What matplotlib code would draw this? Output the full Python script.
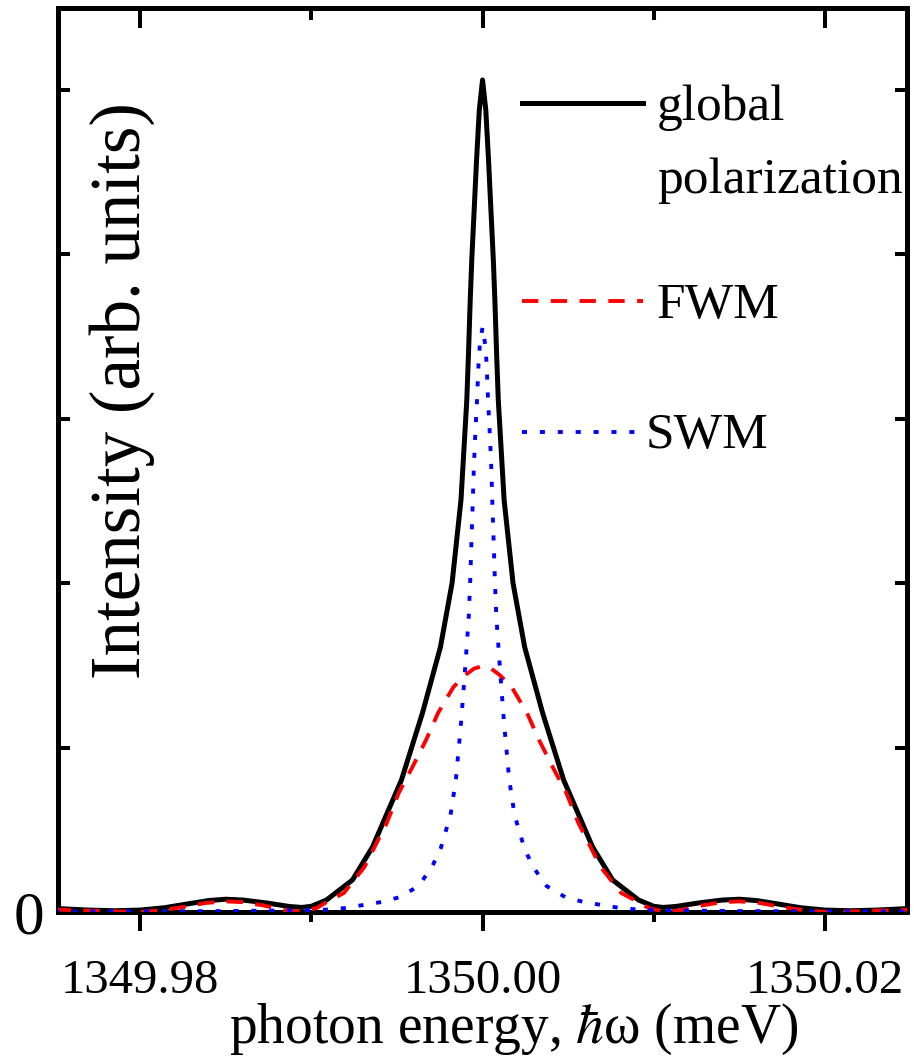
import numpy as np
import matplotlib
matplotlib.use("Agg")
import matplotlib.pyplot as plt
from matplotlib.ticker import MultipleLocator

plt.rcParams['font.family'] = ['Liberation Serif', 'DejaVu Serif']
plt.rcParams['mathtext.fontset'] = 'stix'

center = 1350.0

# half profiles: offset from 1350 meV, intensity
black_off = [0, 0.00019, 0.00035, 0.00049, 0.00063, 0.00072, 0.00082, 0.00092,
             0.00126, 0.00178, 0.00246, 0.00351, 0.00474, 0.00643, 0.00760,
             0.00912, 0.0100, 0.01055, 0.0113, 0.0126, 0.0140, 0.0150, 0.0160,
             0.0172, 0.0186, 0.0200, 0.0215, 0.0230, 0.0250]
black_val = [5.058, 4.875, 4.571, 4.267, 3.964, 3.720, 3.398, 3.112,
             2.505, 2.000, 1.611, 1.210, 0.802, 0.395, 0.195,
             0.073, 0.035, 0.028, 0.034, 0.055, 0.073, 0.078, 0.070,
             0.050, 0.026, 0.012, 0.008, 0.012, 0.022]

fwm_off = [0, 0.0005, 0.0010, 0.0017, 0.0026, 0.0033, 0.0041, 0.0049, 0.0056,
           0.0064, 0.0069, 0.0075, 0.0081, 0.0091, 0.0097, 0.0106, 0.0115,
           0.0128, 0.0140, 0.0150, 0.0162, 0.0175, 0.0190, 0.0200, 0.0215,
           0.0235, 0.0250]
fwm_val = [1.495, 1.480, 1.441, 1.368, 1.210, 1.046, 0.881, 0.723, 0.541,
           0.377, 0.274, 0.195, 0.116, 0.061, 0.024, 0.003, 0.010,
           0.040, 0.060, 0.065, 0.055, 0.030, 0.008, 0.001, 0.004,
           0.010, 0.015]

swm_off = [0, 0.000158, 0.000234, 0.000322, 0.000421, 0.000509, 0.000567,
           0.000632, 0.000719, 0.000807, 0.001023, 0.001257, 0.001561,
           0.001871, 0.002439, 0.002953, 0.003743, 0.004825, 0.005906,
           0.006959, 0.008070, 0.009064, 0.0110, 0.0150, 0.0200, 0.0250]
swm_val = [3.556, 3.447, 3.337, 3.112, 2.912, 2.705, 2.505,
           2.304, 2.018, 1.793, 1.471, 1.149, 0.802,
           0.590, 0.389, 0.274, 0.158, 0.091, 0.061,
           0.043, 0.024, 0.015, 0.010, 0.006, 0.004, 0.003]

x_ticks = [1349.98, 1350.00, 1350.02]
x_tick_labels = ['1349.98', '1350.00', '1350.02']
y_ticks = [0, 1, 2, 3, 4, 5]
y_tick_labels = ['0', '', '', '', '', '']


def mirror(off, val):
    off = np.array(off)
    val = np.array(val)
    x = np.concatenate([center - off[::-1], center + off[1:]])
    y = np.concatenate([val[::-1], val[1:]])
    return x, y


fig = plt.figure(figsize=(9.14, 10.63), dpi=100)
ax = fig.add_axes([0.0635, 0.142, 0.9289, 0.8504])

xb, yb = mirror(black_off, black_val)
xf, yf = mirror(fwm_off, fwm_val)
xs, ys = mirror(swm_off, swm_val)

ax.plot(xb, yb, color='black', lw=3.6, zorder=3)
ax.plot(xf, yf, color='#ff0000', lw=2.8, dashes=(4.2, 3.2), zorder=4)
ax.plot(xs, ys, color='#0000ff', lw=2.8, dashes=(1.3, 3.3), zorder=5)

ax.set_xlim(1349.9752, 1350.0248)
ax.set_ylim(0, 5.495)

for s in ax.spines.values():
    s.set_linewidth(3.6)

ax.set_xticks(x_ticks)
ax.set_xticklabels(x_tick_labels)
ax.xaxis.set_minor_locator(MultipleLocator(0.01))
ax.tick_params(axis='x', which='major', direction='out', length=13.7, width=2.9,
               labelsize=35, pad=20)
ax.tick_params(axis='x', which='minor', direction='out', length=7.2, width=2.9)

ax.set_yticks(y_ticks)
ax.set_yticklabels(y_tick_labels)
ax.tick_params(axis='y', which='major', direction='in', length=8.6, width=2.9,
               right=True, labelsize=44, pad=10)

top = ax.secondary_xaxis('top')
top.set_xticks(x_ticks)
top.xaxis.set_minor_locator(MultipleLocator(0.01))
top.tick_params(axis='x', which='major', direction='in', length=14.4, width=2.9,
                labeltop=False)
top.tick_params(axis='x', which='minor', direction='in', length=8.6, width=2.9)
top.spines['top'].set_linewidth(3.6)

# legend drawn by hand, like the original
ax.plot([0.5465, 0.689], [0.895, 0.895], transform=ax.transAxes, color='black', lw=3.6)
ax.text(0.7055, 0.876, 'global', transform=ax.transAxes, fontsize=37, va='baseline')
ax.text(0.7055, 0.795, 'polarization', transform=ax.transAxes, fontsize=37, va='baseline')
ax.plot([0.5465, 0.689], [0.676, 0.676], transform=ax.transAxes, color='#ff0000',
        lw=2.8, dashes=(4.2, 3.2))
ax.text(0.7055, 0.657, 'FWM', transform=ax.transAxes, fontsize=37, va='baseline')
ax.plot([0.5465, 0.682], [0.531, 0.531], transform=ax.transAxes, color='#0000ff',
        lw=2.8, dashes=(1.3, 3.3))
ax.text(0.6915, 0.513, 'SWM', transform=ax.transAxes, fontsize=37, va='baseline')

fig.text(514 / 914, 0.0188, r'photon energy, $\hbar$ω (meV)', fontsize=40,
         ha='center', va='baseline')
fig.text(122 / 914, 0.633, 'Intensity (arb. units)', fontsize=51, rotation=90,
         ha='center', va='center')

fig.savefig('out.png', dpi=100)
